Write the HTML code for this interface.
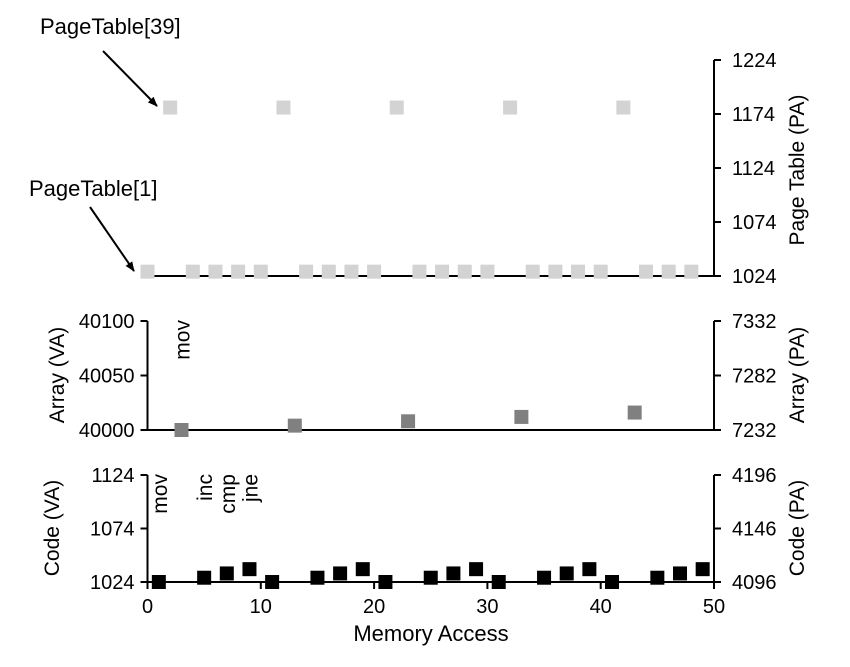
<!DOCTYPE html>
<html><head><meta charset="utf-8"><style>
html,body{margin:0;padding:0;background:#fff;}
svg{display:block;font-family:"Liberation Sans",Arial,sans-serif;}
</style></head><body>
<svg id="chart" width="850" height="667" viewBox="0 0 850 667" xmlns="http://www.w3.org/2000/svg">
<defs><marker id="ah" markerWidth="10" markerHeight="10" refX="9" refY="5" orient="auto" markerUnits="userSpaceOnUse"><path d="M0,1 L10,5 L0,9 Z" fill="#000"/></marker></defs>
</svg>
<script>
const ptX = [0,2,4,6,8,10,12,14,16,18,20,22,24,26,28,30,32,34,36,38,40,42,44,46,48];
const ptY = [1028,1180,1028,1028,1028,1028,1180,1028,1028,1028,1028,1180,1028,1028,1028,1028,1180,1028,1028,1028,1028,1180,1028,1028,1028];
const arrX = [3,13,23,33,43];
const arrY = [40000,40004,40008,40012,40016];
const codeX = [1,5,7,9,11,15,17,19,21,25,27,29,31,35,37,39,41,45,47,49];
const codeY = [1024,1028,1032,1036,1024,1028,1032,1036,1024,1028,1032,1036,1024,1028,1032,1036,1024,1028,1032,1036];
const xTicks = [0,10,20,30,40,50];
const ptRightTicks = [1024,1074,1124,1174,1224];
const arrLeftTicks = [40000,40050,40100];
const arrRightTicks = ["7232","7282","7332"];
const codeLeftTicks = [1024,1074,1124];
const codeRightTicks = ["4096","4146","4196"];

const svg = document.getElementById('chart');
const NS = 'http://www.w3.org/2000/svg';
function mk(tag, attrs, parent){const e=document.createElementNS(NS,tag);for(const k in attrs)e.setAttribute(k,attrs[k]);(parent||svg).appendChild(e);return e;}
function txt(s, attrs){const e=mk('text',Object.assign({'font-size':20,fill:'#000'},attrs));e.textContent=s;return e;}
const X0=147.5,X1=714;
const xs = v => X0 + v*(X1-X0)/50;
const ptS = v => 276 - (v-1024)*(276-60)/200;
const arS = v => 430 - (v-40000)*(430-321)/100;
const cdS = v => 582 - (v-1024)*(582-475)/100;

// top panel
let l=mk('line',{x1:X0,y1:276,x2:X1,y2:276,stroke:'#000','stroke-width':2});

l=mk('line',{x1:X1,y1:60,x2:X1,y2:276,stroke:'#000','stroke-width':2});

ptRightTicks.forEach(v=>{
  const t=mk('line',{x1:X1,y1:ptS(v),x2:X1+7,y2:ptS(v),stroke:'#000','stroke-width':2});
  
  const s=txt(String(v),{x:X1+18,y:ptS(v)+7});
  
});
ptX.forEach((v,i)=>{
  const r=mk('rect',{x:xs(v)-7,y:ptS(ptY[i])-7,width:14,height:14,fill:'#d3d3d3'});
  
});
let t=txt('Page Table (PA)',{x:0,y:0,'font-size':21,'text-anchor':'middle',transform:'translate(804,170) rotate(-90)'});

t=txt('PageTable[39]',{x:40,y:34,'font-size':22});

l=mk('line',{x1:103,y1:51,x2:157,y2:106,stroke:'#000','stroke-width':2,'marker-end':'url(#ah)'});

t=txt('PageTable[1]',{x:29,y:196,'font-size':22});

l=mk('line',{x1:90,y1:207,x2:134,y2:271,stroke:'#000','stroke-width':2,'marker-end':'url(#ah)'});


// middle panel
l=mk('path',{d:`M${X0},321 V430 H${X1} V321`,stroke:'#000','stroke-width':2,fill:'none'});

arrLeftTicks.forEach((v,i)=>{
  const y=arS(v);
  let a=mk('line',{x1:X0-7,y1:y,x2:X0,y2:y,stroke:'#000','stroke-width':2});
  
  a=mk('line',{x1:X1,y1:y,x2:X1+7,y2:y,stroke:'#000','stroke-width':2});
  
  let s=txt(String(v),{x:X0-13,y:y+7,'text-anchor':'end'});
  
  s=txt(arrRightTicks[i],{x:X1+18,y:y+7});
  
});
arrX.forEach((v,i)=>{
  const r=mk('rect',{x:xs(v)-7,y:arS(arrY[i])-7,width:14,height:14,fill:'#808080'});
  
});
t=txt('Array (VA)',{x:0,y:0,'font-size':21,'text-anchor':'middle',transform:'translate(64,375) rotate(-90)'});

t=txt('Array (PA)',{x:0,y:0,'font-size':21,'text-anchor':'middle',transform:'translate(804,375) rotate(-90)'});

t=txt('mov',{x:0,y:0,'font-size':21,'text-anchor':'end',transform:`translate(${xs(3)+8},320) rotate(-90)`});


// bottom panel
l=mk('path',{d:`M${X0},475 V582 H${X1} V475`,stroke:'#000','stroke-width':2,fill:'none'});

codeLeftTicks.forEach((v,i)=>{
  const y=cdS(v);
  let a=mk('line',{x1:X0-7,y1:y,x2:X0,y2:y,stroke:'#000','stroke-width':2});
  
  a=mk('line',{x1:X1,y1:y,x2:X1+7,y2:y,stroke:'#000','stroke-width':2});
  
  let s=txt(String(v),{x:X0-13,y:y+7,'text-anchor':'end'});
  
  s=txt(codeRightTicks[i],{x:X1+18,y:y+7});
  
});
xTicks.forEach(v=>{
  let a=mk('line',{x1:xs(v),y1:582,x2:xs(v),y2:589,stroke:'#000','stroke-width':2});
  
  let s=txt(String(v),{x:xs(v),y:613,'text-anchor':'middle'});
  
});
codeX.forEach((v,i)=>{
  const r=mk('rect',{x:xs(v)-7,y:cdS(codeY[i])-7,width:14,height:14,fill:'#000'});
  
});
t=txt('Code (VA)',{x:0,y:0,'font-size':21,'text-anchor':'middle',transform:'translate(59,528) rotate(-90)'});

t=txt('Code (PA)',{x:0,y:0,'font-size':21,'text-anchor':'middle',transform:'translate(804,528) rotate(-90)'});

t=txt('Memory Access',{x:431,y:641,'font-size':22,'text-anchor':'middle'});

[['mov',1],['inc',5],['cmp',7],['jne',9]].forEach(([s,v])=>{
  const e=txt(s,{x:0,y:0,'font-size':21,'text-anchor':'end',transform:`translate(${xs(v)+8},474) rotate(-90)`});
  
  
});
</script>
</body></html>
